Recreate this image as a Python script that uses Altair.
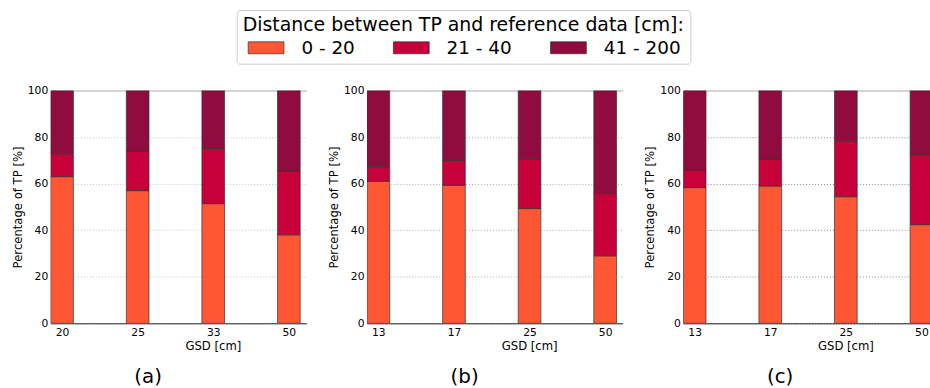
import altair as alt
import pandas as pd

# Distance classes and their colours
classes = ["0 - 20", "21 - 40", "41 - 200"]
class_colors = ["#FF5733", "#C70039", "#900C3F"]

# Panel (a)
gsd_a = ["20", "25", "33", "50"]
near_a = [63.0, 57.0, 51.4, 38.0]
mid_a = [9.8, 17.0, 23.7, 27.4]
far_a = [27.2, 26.0, 24.9, 34.6]

# Panel (b)
gsd_b = ["13", "17", "25", "50"]
near_b = [61.0, 59.3, 49.3, 29.0]
mid_b = [6.3, 10.7, 21.4, 26.7]
far_b = [32.7, 30.0, 29.3, 44.3]

# Panel (c)
gsd_c = ["13", "17", "25", "50"]
near_c = [58.3, 59.0, 54.4, 42.4]
mid_c = [7.6, 11.6, 24.0, 30.3]
far_c = [34.1, 29.4, 21.6, 27.3]

y_ticks = [0, 20, 40, 60, 80, 100]
FONT = "DejaVu Sans"

legend = alt.Legend(
    title="Distance between TP and reference data [cm]:",
    orient="none",
    legendX=187,
    legendY=-81,
    direction="horizontal",
    columns=3,
    gridAlign="none",
    symbolType="M-0.5,-0.6H3.1V0.6H-0.5Z",
    symbolSize=400,
    symbolStrokeColor="#333333",
    symbolStrokeWidth=0.7,
    symbolOpacity=1,
    labelOffset=38,
    columnPadding=33,
    labelFontSize=18.5,
    titleFontSize=19,
    labelFont=FONT,
    titleFont=FONT,
    titleFontWeight="normal",
    labelColor="black",
    titleColor="black",
    titleLimit=1000,
    labelLimit=300,
    titlePadding=2.5,
    padding=6,
    strokeColor="#cccccc",
    fillColor="white",
    cornerRadius=3,
)


def panel(gsd, near, mid, far, caption, width, x_max, grid_color):
    rows = []
    for slot, g in enumerate(gsd):
        for rank, (cls, vals) in enumerate(zip(classes, (near, mid, far))):
            rows.append({"slot": slot, "gsd": g, "cls": cls, "rank": rank, "pct": vals[slot]})
    df = pd.DataFrame(rows)
    label_expr = "[" + ",".join(f"'{g}'" for g in gsd) + "][floor(datum.value)]"

    return (
        alt.Chart(df)
        .transform_stack(
            stack="pct",
            groupby=["slot"],
            as_=["y0", "y1"],
            sort=[alt.SortField(field="rank", order="ascending")],
        )
        .transform_calculate(x0="datum.slot", x1="datum.slot + 0.3")
        .mark_bar(stroke="#333333", strokeWidth=0.7, clip=True)
        .encode(
            x=alt.X(
                "x0:Q",
                scale=alt.Scale(domain=[0, x_max], nice=False, zero=False),
                axis=alt.Axis(
                    values=[0.15, 1.15, 2.15, 3.15],
                    labelExpr=label_expr,
                    title="GSD [cm]",
                    titleX=163,
                    titleY=26,
                    titleAlign="center",
                    titleBaseline="alphabetic",
                    grid=False,
                    ticks=False,
                    labelPadding=3,
                    labelFontSize=10.8,
                    titleFontSize=11.7,
                    domainColor="#222222",
                    domainWidth=1,
                ),
            ),
            x2="x1:Q",
            y=alt.Y(
                "y0:Q",
                scale=alt.Scale(domain=[0, 100], nice=False),
                axis=alt.Axis(
                    values=y_ticks,
                    title="Percentage of TP [%]",
                    titlePadding=4,
                    ticks=False,
                    labelPadding=3,
                    labelFontSize=10.8,
                    titleFontSize=11.7,
                    domainColor="#555555",
                    grid=True,
                    gridColor={"condition": {"test": "datum.value === 100", "value": "#aaaaaa"}, "value": grid_color},
                    gridDash={"condition": {"test": "datum.value === 100", "value": []}, "value": [1, 2]},
                    gridWidth=1,
                ),
            ),
            y2="y1:Q",
            color=alt.Color("cls:N", scale=alt.Scale(domain=classes, range=class_colors), legend=legend),
        )
        .properties(
            width=width,
            height=234,
            title=alt.TitleParams(caption, orient="bottom", anchor="start", frame="group", dx=84, offset=15),
        )
    )


chart = (
    alt.hconcat(
        panel(gsd_a, near_a, mid_a, far_a, "(a)", 257, 257 / 76, "#c8c8c8"),
        panel(gsd_b, near_b, mid_b, far_b, "(b)", 257, 257 / 76, "#aaaaaa"),
        panel(gsd_c, near_c, mid_c, far_c, "(c)", 248, 248 / 76, "#888888"),
        spacing=22,
    )
    .properties(padding={"left": 12, "top": 8, "right": 0, "bottom": 0})
    .configure_view(stroke=None)
    .configure_axis(labelFont=FONT, titleFont=FONT, labelColor="black", titleColor="black", titleFontWeight="normal")
    .configure_title(font=FONT, fontSize=20, fontWeight="normal", color="black")
)

chart.save("out.html", embed_options={"renderer": "svg", "actions": False})
